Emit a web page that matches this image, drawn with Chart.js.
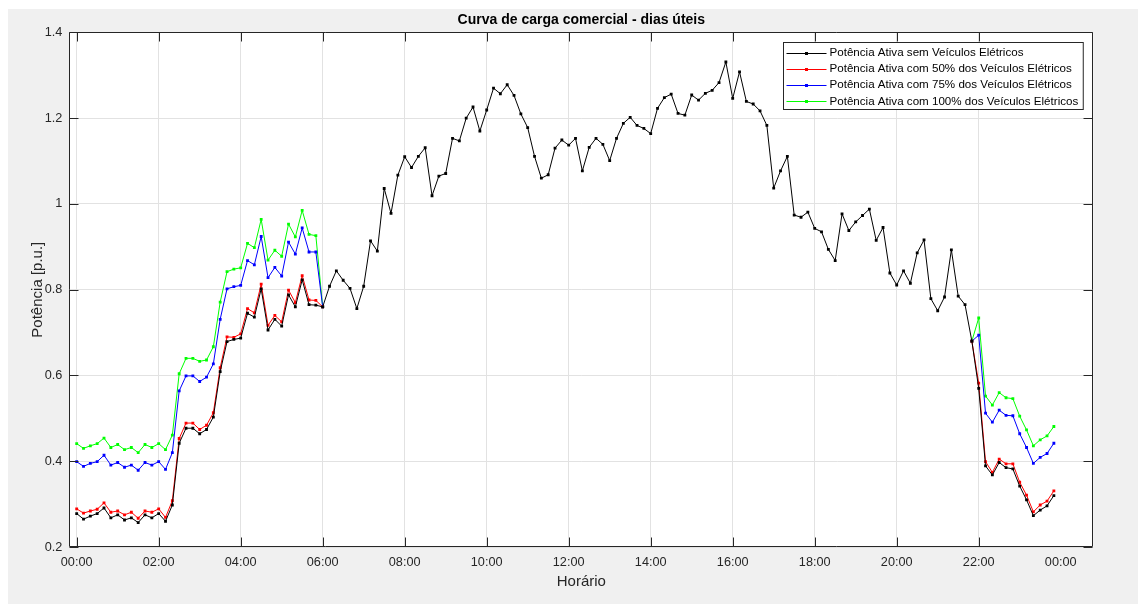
<!DOCTYPE html>
<html>
<head>
<meta charset="utf-8">
<script src="https://cdn.jsdelivr.net/npm/chart.js@4.4.0/dist/chart.umd.min.js"></script>
<style>
  html, body { margin: 0; padding: 0; background: #ffffff; }
  #wrap { width: 1138px; height: 604px; }
</style>
</head>
<body>
<div id="wrap"><canvas id="curva" width="1138" height="604"></canvas></div>
<script>
// Curva de carga comercial (dias úteis), amostras a cada 10 minutos, 00:00 a 23:50
const PASSO_MIN = 10;

// Potência ativa sem veículos elétricos [p.u.]
const semVE = [
  0.278, 0.265, 0.272, 0.278, 0.291, 0.268, 0.275, 0.263, 0.268, 0.257, 0.275, 0.268,
  0.278, 0.260, 0.298, 0.442, 0.477, 0.477, 0.464, 0.474, 0.503, 0.609, 0.679, 0.684,
  0.687, 0.745, 0.736, 0.802, 0.706, 0.731, 0.715, 0.788, 0.760, 0.823, 0.765, 0.764,
  0.760, 0.808, 0.844, 0.822, 0.803, 0.756, 0.808, 0.914, 0.890, 1.036, 0.978, 1.067,
  1.110, 1.085, 1.111, 1.131, 1.019, 1.065, 1.071, 1.153, 1.147, 1.200, 1.226, 1.170,
  1.219, 1.270, 1.257, 1.278, 1.253, 1.210, 1.178, 1.111, 1.060, 1.068, 1.130, 1.149,
  1.137, 1.153, 1.077, 1.132, 1.153, 1.139, 1.101, 1.153, 1.188, 1.202, 1.183, 1.176,
  1.164, 1.223, 1.248, 1.256, 1.211, 1.207, 1.254, 1.242, 1.258, 1.265, 1.283, 1.331,
  1.246, 1.308, 1.239, 1.233, 1.217, 1.183, 1.037, 1.077, 1.111, 0.974, 0.969, 0.981,
  0.943, 0.935, 0.894, 0.868, 0.977, 0.938, 0.958, 0.973, 0.988, 0.915, 0.945, 0.839,
  0.811, 0.844, 0.815, 0.886, 0.916, 0.779, 0.751, 0.783, 0.893, 0.785, 0.765, 0.680,
  0.570, 0.389, 0.368, 0.397, 0.385, 0.382, 0.342, 0.310, 0.273, 0.286, 0.296, 0.320
];

// Recarga dos veículos: madrugada (00:00 a 06:00) e noite (21:50 a 23:50)
const inicioNoite = '21:50';

const ve50Madrugada = [
  0.289, 0.279, 0.284, 0.288, 0.303, 0.281, 0.284, 0.275, 0.281, 0.267, 0.284, 0.281,
  0.289, 0.269, 0.308, 0.453, 0.489, 0.489, 0.474, 0.484, 0.513, 0.618, 0.690, 0.689,
  0.697, 0.756, 0.746, 0.813, 0.717, 0.740, 0.725, 0.799, 0.770, 0.833, 0.776, 0.775, 0.760
];
const ve50Noite = [0.680, 0.582, 0.399, 0.374, 0.405, 0.394, 0.394, 0.351, 0.321, 0.282, 0.298, 0.307, 0.331];

const ve75Madrugada = [
  0.399, 0.388, 0.395, 0.399, 0.414, 0.391, 0.397, 0.386, 0.391, 0.379, 0.397, 0.391,
  0.399, 0.381, 0.420, 0.564, 0.599, 0.599, 0.586, 0.596, 0.627, 0.731, 0.802, 0.807,
  0.810, 0.868, 0.858, 0.924, 0.828, 0.852, 0.832, 0.911, 0.883, 0.944, 0.888, 0.888, 0.760
];
const ve75Noite = [0.680, 0.694, 0.512, 0.491, 0.519, 0.507, 0.506, 0.464, 0.432, 0.395, 0.409, 0.418, 0.442];

const ve100Madrugada = [
  0.441, 0.430, 0.436, 0.441, 0.454, 0.432, 0.439, 0.427, 0.432, 0.420, 0.439, 0.432,
  0.441, 0.427, 0.461, 0.604, 0.640, 0.640, 0.633, 0.636, 0.667, 0.771, 0.842, 0.848,
  0.851, 0.908, 0.898, 0.964, 0.869, 0.892, 0.878, 0.953, 0.923, 0.985, 0.929, 0.926, 0.760
];
const ve100Noite = [0.680, 0.734, 0.552, 0.531, 0.560, 0.548, 0.546, 0.505, 0.473, 0.436, 0.450, 0.459, 0.481];

// Marcas do eixo horário (minutos do dia) e rótulos
const ticksHorario = ['00:00', '02:00', '04:00', '06:00', '08:00', '10:00', '12:00',
                      '14:00', '16:00', '18:00', '20:00', '22:00', '00:00'];
const ticksPotencia = [0.2, 0.4, 0.6, 0.8, 1.0, 1.2, 1.4];

const legendas = [
  'Potência Ativa sem Veículos Elétricos',
  'Potência Ativa com 50% dos Veículos Elétricos',
  'Potência Ativa com 75% dos Veículos Elétricos',
  'Potência Ativa com 100% dos Veículos Elétricos'
];
const cores = ['#000000', '#ff0000', '#0000ff', '#00ff00'];

const FONTE = "'Liberation Sans', Arial, Helvetica, sans-serif";
const COR_TEXTO = '#262626';

function paraMinutos(hhmm) {
  const [h, m] = hhmm.split(':').map(Number);
  return h * 60 + m;
}

function serie(valores, inicioMin) {
  return valores.map((v, i) => ({ x: inicioMin + i * PASSO_MIN, y: v }));
}

function serieVE(madrugada, noite) {
  // lacuna entre os dois períodos de recarga
  return serie(madrugada, 0)
    .concat([{ x: (madrugada.length) * PASSO_MIN, y: null }])
    .concat(serie(noite, paraMinutos(inicioNoite)));
}

const minutosTicks = ticksHorario.map((t, i) => i * 120);

const dadosVE = [
  serieVE(ve50Madrugada, ve50Noite),
  serieVE(ve75Madrugada, ve75Noite),
  serieVE(ve100Madrugada, ve100Noite)
];

const datasets = [serie(semVE, 0)].concat(dadosVE).map((d, i) => ({
  label: legendas[i],
  data: d,
  borderColor: cores[i],
  backgroundColor: cores[i],
  borderWidth: 1,
  pointStyle: 'rect',
  pointRadius: 2,
  pointBorderWidth: 0,
  pointBackgroundColor: cores[i],
  spanGaps: false,
  tension: 0
}));

// Moldura da figura, eixos com marcas internas, título e legenda em caixa
const figura = {
  id: 'figura',
  beforeDraw(chart) {
    const { ctx, chartArea: a, width, height } = chart;
    ctx.save();
    ctx.fillStyle = '#ffffff';
    ctx.fillRect(0, 0, width, height);
    ctx.fillStyle = '#f0f0f0';
    ctx.fillRect(8, 9, width - 8, height - 9);
    ctx.fillStyle = '#ffffff';
    ctx.fillRect(a.left, a.top, a.right - a.left, a.bottom - a.top);
    ctx.restore();
  },
  afterDatasetsDraw(chart) {
    const { ctx, chartArea: a, scales } = chart;
    const L = Math.round(a.left) + 0.5, R = Math.round(a.right) - 0.5;
    const T = Math.round(a.top) + 0.5, B = Math.round(a.bottom) - 0.5;
    const tam = 9;
    ctx.save();
    ctx.strokeStyle = COR_TEXTO;
    ctx.lineWidth = 1;
    ctx.beginPath();
    ctx.rect(L, T, R - L, B - T);
    scales.x.ticks.forEach(t => {
      if (t.value >= 1440) return;
      const px = Math.round(scales.x.getPixelForValue(t.value)) + 0.5;
      ctx.moveTo(px, B); ctx.lineTo(px, B - tam);
      ctx.moveTo(px, T); ctx.lineTo(px, T + tam);
    });
    scales.y.ticks.forEach(t => {
      const py = Math.round(scales.y.getPixelForValue(t.value)) + 0.5;
      ctx.moveTo(L, py); ctx.lineTo(L + tam, py);
      ctx.moveTo(R, py); ctx.lineTo(R - tam, py);
    });
    ctx.stroke();

    // título
    ctx.fillStyle = '#000000';
    ctx.font = 'bold 14px ' + FONTE;
    ctx.textAlign = 'center';
    ctx.textBaseline = 'middle';
    ctx.fillText('Curva de carga comercial - dias úteis', (a.left + a.right) / 2, 20);

    // legenda
    ctx.font = '11.6px ' + FONTE;
    const larguraTexto = Math.max(...legendas.map(s => ctx.measureText(s).width));
    const linhaIni = 3, linhaFim = 43, textoX = 46;
    const larg = textoX + larguraTexto + 5;
    const passo = 16.3, alt = 67;
    const x0 = Math.round(a.right - 10.6 - larg) + 0.5;
    const y0 = Math.round(a.top + 10) + 0.5;
    ctx.fillStyle = '#ffffff';
    ctx.fillRect(x0, y0, larg, alt);
    ctx.strokeStyle = COR_TEXTO;
    ctx.strokeRect(x0, y0, larg, alt);
    ctx.textAlign = 'left';
    legendas.forEach((s, i) => {
      const yc = y0 + 10 + i * passo;
      ctx.strokeStyle = cores[i];
      ctx.beginPath();
      ctx.moveTo(x0 + linhaIni, Math.round(yc) + 0.5);
      ctx.lineTo(x0 + linhaFim, Math.round(yc) + 0.5);
      ctx.stroke();
      ctx.fillStyle = cores[i];
      ctx.fillRect(x0 + (linhaIni + linhaFim) / 2 - 1.5, Math.round(yc) - 1, 3, 3);
      ctx.fillStyle = '#000000';
      ctx.fillText(s, x0 + textoX, yc);
    });
    ctx.restore();
  }
};

new Chart(document.getElementById('curva'), {
  type: 'line',
  data: { datasets },
  plugins: [figura],
  options: {
    responsive: false,
    animation: false,
    events: [],
    layout: { padding: { top: 32.4, right: 44.7, bottom: 0, left: 0 } },
    plugins: {
      legend: { display: false },
      title: { display: false },
      tooltip: { enabled: false }
    },
    scales: {
      x: {
        type: 'linear',
        min: -10.8,
        max: 1487.7,
        afterBuildTicks: s => { s.ticks = minutosTicks.map(v => ({ value: v })); },
        afterFit: s => { s.height = 57; },
        border: { display: false },
        grid: {
          drawTicks: false,
          lineWidth: 1,
          color: c => (c.tick && c.tick.value >= 1440) ? 'rgba(0,0,0,0)' : '#e2e2e2'
        },
        ticks: {
          autoSkip: false,
          maxRotation: 0,
          padding: 8,
          color: COR_TEXTO,
          font: { family: FONTE, size: 12.7 },
          callback: (v, i) => ticksHorario[i]
        },
        title: {
          display: true,
          text: 'Horário',
          color: COR_TEXTO,
          font: { family: FONTE, size: 15 },
          padding: { top: 0, bottom: 13 }
        }
      },
      y: {
        min: 0.2,
        max: 1.4,
        afterBuildTicks: s => { s.ticks = ticksPotencia.map(v => ({ value: v })); },
        afterFit: s => { s.width = 69.3; },
        border: { display: false },
        grid: { drawTicks: false, lineWidth: 1, color: '#e2e2e2' },
        ticks: {
          padding: 7,
          color: COR_TEXTO,
          font: { family: FONTE, size: 12.7 },
          callback: v => String(Math.round(v * 10) / 10)
        },
        title: {
          display: true,
          text: 'Potência [p.u.]',
          color: COR_TEXTO,
          font: { family: FONTE, size: 15 },
          padding: { top: 29, bottom: 0 }
        }
      }
    }
  }
});
</script>
</body>
</html>
